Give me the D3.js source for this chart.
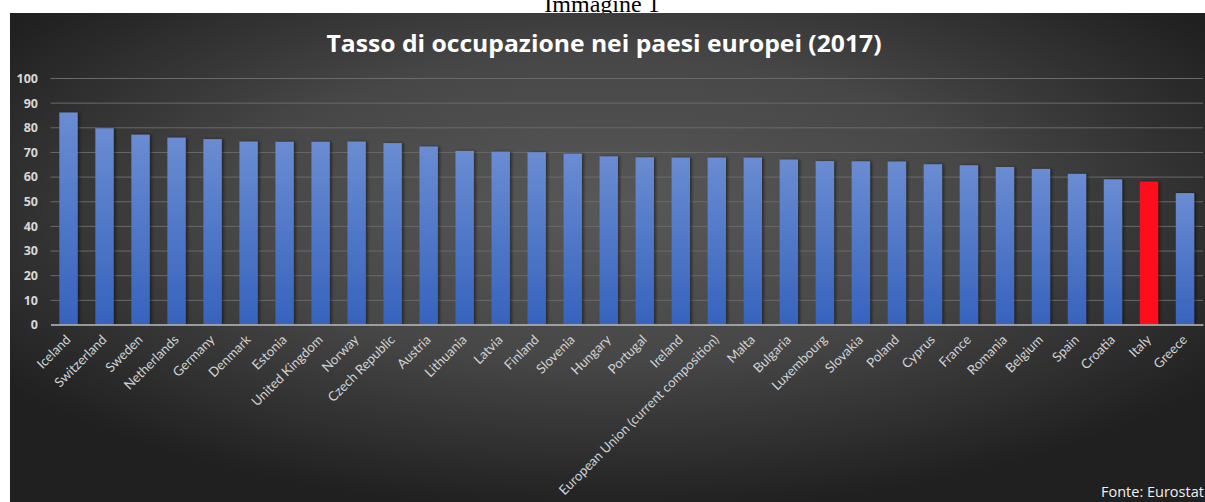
<!DOCTYPE html>
<html>
<head>
<meta charset="utf-8">
<script src="https://cdn.jsdelivr.net/npm/d3@7"></script>
<style>
  html, body { margin: 0; padding: 0; background: #ffffff; }
  svg { display: block; }
</style>
</head>
<body>
<svg id="chart" width="1205" height="502"></svg>
<script>
const categories = ["Iceland","Switzerland","Sweden","Netherlands","Germany","Denmark","Estonia","United Kingdom","Norway","Czech Republic","Austria","Lithuania","Latvia","Finland","Slovenia","Hungary","Portugal","Ireland","European Union (current composition)","Malta","Bulgaria","Luxembourg","Slovakia","Poland","Cyprus","France","Romania","Belgium","Spain","Croatia","Italy","Greece"];
const values = [86.0,79.6,77.0,75.8,75.2,74.2,74.1,74.1,74.2,73.6,72.2,70.4,70.1,69.9,69.3,68.2,67.8,67.7,67.7,67.7,66.9,66.3,66.2,66.1,65.0,64.6,63.9,63.1,61.1,58.9,58.0,53.3];
const highlight = ["Italy"];
const yTicks = [0,10,20,30,40,50,60,70,80,90,100];
const titleText = "Tasso di occupazione nei paesi europei (2017)";
const sourceText = "Fonte: Eurostat";
const captionText = "Immagine 1";

const svg = d3.select("#chart");
const defs = svg.append("defs");

const bg = defs.append("radialGradient").attr("id","bg").attr("cx","50%").attr("cy","40%").attr("r","62%");
bg.append("stop").attr("offset","0%").attr("stop-color","#585858");
bg.append("stop").attr("offset","50%").attr("stop-color","#474747");
bg.append("stop").attr("offset","100%").attr("stop-color","#202020");

const barG = defs.append("linearGradient").attr("id","barGrad").attr("x1","0").attr("y1","0").attr("x2","0").attr("y2","1");
barG.append("stop").attr("offset","0%").attr("stop-color","#6a8cd2");
barG.append("stop").attr("offset","100%").attr("stop-color","#3763bd");

const sh = defs.append("filter").attr("id","shadow").attr("x","-30%").attr("y","-5%").attr("width","160%").attr("height","110%");
sh.append("feDropShadow").attr("dx",2).attr("dy",0).attr("stdDeviation",1.5).attr("flood-color","#000").attr("flood-opacity",0.45);

// caption above chart (partly hidden, as in the reference)
svg.append("text").attr("x",602).attr("y",12).attr("text-anchor","middle")
  .attr("font-family","Liberation Serif, serif").attr("font-size",24).attr("fill","#000")
  .text(captionText);

// background panel
svg.append("rect").attr("x",10).attr("y",13).attr("width",1195).attr("height",489).attr("fill","url(#bg)");

// title
svg.append("text").attr("x",604).attr("y",52).attr("text-anchor","middle")
  .attr("font-family","Open Sans, sans-serif").attr("font-weight",700).attr("font-size",24)
  .attr("fill","#ffffff").attr("textLength",555).attr("lengthAdjust","spacingAndGlyphs")
  .text(titleText);

const x = d3.scaleBand().domain(categories).range([50.5,1203]).paddingInner(0.49).paddingOuter(0.245);
const y = d3.scaleLinear().domain([0,100]).range([324.5,78]);

// gridlines
const grid = svg.append("g").attr("transform","translate(50.5,0)")
  .call(d3.axisLeft(y).tickValues(yTicks).tickSize(-(1203-50.5)).tickFormat(""));
grid.select(".domain").remove();
grid.selectAll(".tick line").attr("stroke","#6a6a6a").attr("stroke-width",1);
grid.selectAll(".tick").filter(d => d === 0).remove();

// y labels
const yAxis = svg.append("g").attr("transform","translate(38,0)")
  .call(d3.axisLeft(y).tickValues(yTicks).tickSize(0).tickPadding(0));
yAxis.select(".domain").remove();
yAxis.selectAll("text").attr("font-family","Open Sans, sans-serif").attr("font-weight",700)
  .attr("font-size",12.5).attr("fill","#d8d8d8").attr("dy","0.35em");

// bars
svg.append("g").selectAll("rect").data(categories).join("rect")
  .attr("x", d => x(d))
  .attr("width", x.bandwidth())
  .attr("y", (d,i) => y(values[i]))
  .attr("height", (d,i) => y(0) - y(values[i]))
  .attr("fill", d => highlight.includes(d) ? "#fe0d1d" : "url(#barGrad)")
  .attr("filter","url(#shadow)");

// x axis line
const xAxis = svg.append("g").attr("transform",`translate(0,${y(0)})`)
  .call(d3.axisBottom(x).tickSize(0).tickFormat(""));
xAxis.select(".domain").attr("stroke","#bdbdbd").attr("stroke-width",1.6);

// x labels
svg.append("g").selectAll("text").data(categories).join("text")
  .attr("transform", d => `translate(${x(d) + x.bandwidth()/2 + 3},${y(0) + 16}) rotate(-45)`)
  .attr("text-anchor","end")
  .attr("font-family","Lato, sans-serif").attr("font-size",13.2).attr("fill","#d2d2d2")
  .text(d => d);

// source
svg.append("text").attr("x",1101).attr("y",497)
  .attr("font-family","Open Sans, sans-serif").attr("font-size",14.5).attr("fill","#f0f0f0")
  .text(sourceText);
</script>
</body>
</html>
